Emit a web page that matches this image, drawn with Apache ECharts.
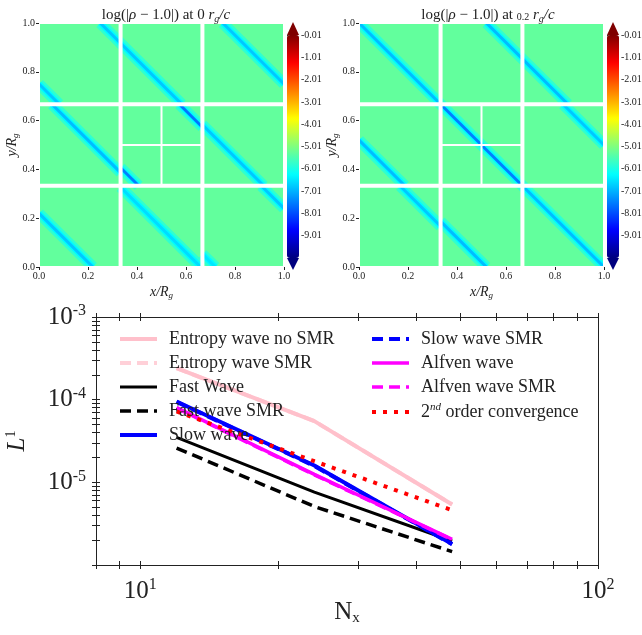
<!DOCTYPE html>
<html>
<head>
<meta charset="utf-8">
<title>Entropy wave snapshots and convergence</title>
<script src="https://cdn.jsdelivr.net/npm/echarts@6.0.0/dist/echarts.min.js"></script>
<style>
  body { margin: 0; padding: 0; background: #fff; }
  #chart { width: 642px; height: 635px; }
</style>
</head>
<body>
<div id="chart"></div>
<script>
// ---- convergence test (bottom panel) ----
const nx = [12, 24, 48];
const entropyNoSmr = [2.4e-4, 5.5e-5, 5.4e-6];
const entropySmr = [2.4e-4, 5.5e-5, 5.4e-6];
const fastWave = [3.5e-5, 7.6e-6, 1.95e-6];
const fastWaveSmr = [2.6e-5, 5.1e-6, 1.45e-6];
const slowWave = [9.5e-5, 1.6e-5, 1.8e-6];
const slowWaveSmr = [9.4e-5, 1.58e-5, 1.78e-6];
const alfvenWave = [8.0e-5, 1.25e-5, 2.05e-6];
const alfvenWaveSmr = [7.9e-5, 1.23e-5, 2.03e-6];
const secondOrder = [7.2e-5, 1.8e-5, 4.6e-6];

const xLabelValues = [10, 100];
const yLabelValues = [1e-5, 1e-4, 1e-3];

// ---- density snapshots (top panels) ----
const colorRange = [-10.01, -0.01];
const colorTicks = [-9.01, -8.01, -7.01, -6.01, -5.01, -4.01, -3.01, -2.01, -1.01, -0.01];
const backgroundLevel = -5.3;
const haloLevels = [-5.8, -6.3];

// wave fronts seen in each mesh block: x1, y1, x2, y2, level at the front
const stripesT0 = [
  [0.25, 1.0, 0.333, 0.917, -6.8],
  [0.0, 0.75, 0.083, 0.667, -6.8],
  [0.333, 0.917, 0.583, 0.667, -6.8],
  [0.75, 1.0, 1.0, 0.75, -6.8],
  [0.053, 0.667, 0.333, 0.387, -6.9],
  [0.333, 0.407, 0.407, 0.333, -7.5],
  [0.573, 0.667, 0.667, 0.573, -7.6],
  [0.667, 0.583, 0.917, 0.333, -6.8],
  [0.0, 0.22, 0.22, 0.0, -6.8],
  [0.333, 0.327, 0.66, 0.0, -6.6],
  [0.907, 0.333, 1.0, 0.24, -6.8],
  [0.667, 0.053, 0.72, 0.0, -6.5]
];
const stripesT02 = [
  [0.0, 1.0, 0.333, 0.667, -6.9],
  [0.52, 1.0, 0.667, 0.853, -6.9],
  [0.667, 0.853, 0.853, 0.667, -6.9],
  [0.0, 0.52, 0.187, 0.333, -6.9],
  [0.333, 0.667, 0.667, 0.333, -7.5],
  [0.833, 0.667, 1.0, 0.5, -6.8],
  [0.167, 0.333, 0.333, 0.167, -6.8],
  [0.333, 0.187, 0.52, 0.0, -6.9],
  [0.667, 0.333, 1.0, 0.0, -6.9]
];
// mesh block borders: x1, y1, x2, y2, kind (0 coarse, 1 refined / edge)
const meshLines = [
  [0.333, 0, 0.333, 1, 0], [0.667, 0, 0.667, 1, 0],
  [0, 0.333, 1, 0.333, 0], [0, 0.667, 1, 0.667, 0],
  [0.5, 0.333, 0.5, 0.667, 1], [0.333, 0.5, 0.667, 0.5, 1],
  [0, 0, 0, 1, 1], [1, 0, 1, 1, 1], [0, 0, 1, 0, 1], [0, 1, 1, 1, 1]
];

const serif = "'Liberation Serif', 'DejaVu Serif', serif";
const ink = '#222';
const jet = ['#00007f', '#0000ff', '#007fff', '#00ffff', '#7fff7f', '#ffff00', '#ff7f00', '#ff0000', '#7f0000'];
const stripeWidths = [11, 6, 3];
const meshWidths = [4, 2];

function fieldData(stripes) {
  const items = [[0, 0, 1, 1, backgroundLevel, -1]];
  for (let layer = 0; layer < stripeWidths.length; layer++) {
    stripes.forEach(s => {
      const level = layer < haloLevels.length ? haloLevels[layer] : s[4];
      items.push([s[0], s[1], s[2], s[3], level, layer]);
    });
  }
  return items;
}

function renderField(params, api) {
  const layer = api.value(5);
  const a = api.coord([api.value(0), api.value(1)]);
  const b = api.coord([api.value(2), api.value(3)]);
  const color = api.visual('color');
  if (layer < 0) {
    return { type: 'rect', shape: { x: a[0], y: b[1], width: b[0] - a[0], height: a[1] - b[1] }, style: { fill: color } };
  }
  return {
    type: 'line',
    shape: { x1: a[0], y1: a[1], x2: b[0], y2: b[1] },
    style: { stroke: color, lineWidth: stripeWidths[layer], lineCap: 'butt' }
  };
}

function renderMesh(params, api) {
  const a = api.coord([api.value(0), api.value(1)]);
  const b = api.coord([api.value(2), api.value(3)]);
  return {
    type: 'line',
    shape: { x1: a[0], y1: a[1], x2: b[0], y2: b[1] },
    style: { stroke: '#fff', lineWidth: meshWidths[api.value(4)] }
  };
}

function renderExtend(params, api) {
  const p = api.coord([0.5, api.value(1)]);
  const half = params.coordSys.width / 2;
  const up = api.value(2) > 0;
  const tip = up ? p[1] - 13 : p[1] + 12;
  return {
    type: 'polygon',
    shape: { points: [[p[0] - half, p[1]], [p[0] + half, p[1]], [p[0], tip]] },
    style: { fill: up ? jet[jet.length - 1] : jet[0] }
  };
}

const titleRich = {
  n: { fontFamily: serif, fontSize: 15, fontWeight: 'normal', color: ink },
  i: { fontFamily: serif, fontSize: 15, fontWeight: 'normal', fontStyle: 'italic', color: ink },
  sm: { fontFamily: serif, fontSize: 10, fontWeight: 'normal', color: ink, padding: [3, 0, 0, 0] },
  sub: { fontFamily: serif, fontSize: 10, fontWeight: 'normal', fontStyle: 'italic', color: ink, padding: [7, 0, 0, 0] }
};
const nameRich = {
  i: { fontFamily: serif, fontSize: 14, fontStyle: 'italic', color: ink },
  sub: { fontFamily: serif, fontSize: 9, fontStyle: 'italic', color: ink, padding: [7, 0, 0, 0] }
};

function panelAxes(k) {
  const x = {
    type: 'value', gridIndex: k, min: 0, max: 1, interval: 0.2,
    axisLine: { show: false },
    axisTick: { show: true, length: 3, lineStyle: { color: ink } },
    axisLabel: { fontFamily: serif, fontSize: 10, color: ink, margin: 4, formatter: v => v.toFixed(1) },
    splitLine: { show: false },
    name: '{i|x/R}{sub|g}', nameLocation: 'middle', nameGap: 17, nameMoveOverlap: false,
    nameTextStyle: { rich: nameRich }
  };
  const y = {
    type: 'value', gridIndex: k, min: 0, max: 1, interval: 0.2,
    axisLine: { show: false },
    axisTick: { show: true, length: 3, lineStyle: { color: ink } },
    axisLabel: { fontFamily: serif, fontSize: 10, color: ink, margin: 4, formatter: v => v.toFixed(1) },
    splitLine: { show: false },
    name: '{i|y/R}{sub|g}', nameLocation: 'middle', nameGap: 19, nameMoveOverlap: false,
    nameTextStyle: { rich: nameRich }
  };
  return [x, y];
}

function colorbarAxes(k) {
  const x = { type: 'value', gridIndex: k, min: 0, max: 1, show: false };
  const y = {
    type: 'value', gridIndex: k, min: colorRange[0], max: colorRange[1], position: 'right',
    axisLine: { show: false },
    axisTick: { show: true, length: 2, customValues: colorTicks, lineStyle: { color: ink } },
    axisLabel: { fontFamily: serif, fontSize: 10, color: ink, margin: 2, customValues: colorTicks, formatter: v => v.toFixed(2) },
    splitLine: { show: false }
  };
  return [x, y];
}

const xTicks = [8, 9, 10, 20, 30, 40, 50, 60, 70, 80, 90, 100];
const yTicks = [];
[-6, -5, -4].forEach(e => { for (let m = 1; m <= 9; m++) yTicks.push(m * Math.pow(10, e)); });
yTicks.push(1e-3);

const powRich = {
  b: { fontFamily: serif, fontSize: 25, color: ink },
  s: { fontFamily: serif, fontSize: 16, color: ink, padding: [0, 0, 12, 0] }
};
const powLabel = v => '{b|10}{s|' + Math.round(Math.log10(v)) + '}';

function logAxis(dir, position, inside, labelled, extra) {
  const isX = dir === 'x';
  return Object.assign({
    type: 'log', logBase: 10, gridIndex: 4, position,
    min: isX ? 8 : 1e-6, max: isX ? 100 : 1e-3,
    axisLine: { show: true, onZero: false, lineStyle: { color: ink, width: 1 } },
    axisTick: { show: inside !== null, inside: !!inside, length: 4, customValues: isX ? xTicks : yTicks, lineStyle: { color: ink } },
    axisLabel: labelled
      ? { customValues: isX ? xLabelValues : yLabelValues, formatter: powLabel, rich: powRich, margin: isX ? 12 : 10 }
      : { show: false },
    splitLine: { show: false },
    minorTick: { show: false }
  }, extra || {});
}

const xAxes = [];
const yAxes = [];
[0, 1].forEach(k => { const a = panelAxes(k); xAxes.push(a[0]); yAxes.push(a[1]); });
[2, 3].forEach(k => { const a = colorbarAxes(k); xAxes.push(a[0]); yAxes.push(a[1]); });
xAxes.push(logAxis('x', 'bottom', false, true, {
  name: '{n|N}{x|x}', nameLocation: 'middle', nameGap: 34, nameMoveOverlap: false,
  nameTextStyle: { rich: {
    n: { fontFamily: serif, fontSize: 25, color: ink },
    x: { fontFamily: serif, fontSize: 15, color: ink, padding: [12, 0, 0, 0] }
  } }
}));
xAxes.push(logAxis('x', 'bottom', true, false));
xAxes.push(logAxis('x', 'top', false, false));
xAxes.push(logAxis('x', 'top', true, false));
yAxes.push(logAxis('y', 'left', false, true, {
  name: '{l|L}{s|1}', nameLocation: 'middle', nameGap: 66, nameMoveOverlap: false,
  nameTextStyle: { rich: {
    l: { fontFamily: serif, fontSize: 25, fontStyle: 'italic', color: ink },
    s: { fontFamily: serif, fontSize: 14, color: ink, padding: [0, 0, 12, 0] }
  } }
}));
yAxes.push(logAxis('y', 'left', true, false));
yAxes.push(logAxis('y', 'right', null, false));
yAxes.push(logAxis('y', 'right', null, false));

const secondName = '2nd order convergence';
const curves = [
  { name: 'Entropy wave no SMR', values: entropyNoSmr, color: '#ffc0cb', width: 4, dash: 'solid' },
  { name: 'Entropy wave SMR', values: entropySmr, color: 'rgba(255,192,203,0.75)', width: 4, dash: [11, 6] },
  { name: 'Fast Wave', values: fastWave, color: '#000', width: 3, dash: 'solid' },
  { name: 'Fast wave SMR', values: fastWaveSmr, color: '#000', width: 3.5, dash: [11, 6] },
  { name: 'Slow wave', values: slowWave, color: '#0000ff', width: 4, dash: 'solid' },
  { name: 'Slow wave SMR', values: slowWaveSmr, color: '#0000ff', width: 4, dash: [11, 6] },
  { name: 'Alfven wave', values: alfvenWave, color: '#ff00ff', width: 3.5, dash: 'solid' },
  { name: 'Alfven wave SMR', values: alfvenWaveSmr, color: '#ff00ff', width: 3.5, dash: [11, 6] },
  { name: secondName, values: secondOrder, color: '#ff0000', width: 4, dash: [4, 7] }
];

const series = [
  { type: 'custom', xAxisIndex: 0, yAxisIndex: 0, clip: true, renderItem: renderField, data: fieldData(stripesT0) },
  { type: 'custom', xAxisIndex: 1, yAxisIndex: 1, clip: true, renderItem: renderField, data: fieldData(stripesT02) },
  { type: 'custom', xAxisIndex: 0, yAxisIndex: 0, clip: true, renderItem: renderMesh, data: meshLines, z: 3 },
  { type: 'custom', xAxisIndex: 1, yAxisIndex: 1, clip: true, renderItem: renderMesh, data: meshLines, z: 3 },
  { type: 'custom', xAxisIndex: 2, yAxisIndex: 2, renderItem: renderExtend, data: [[0.5, colorRange[1], 1], [0.5, colorRange[0], -1]] },
  { type: 'custom', xAxisIndex: 3, yAxisIndex: 3, renderItem: renderExtend, data: [[0.5, colorRange[1], 1], [0.5, colorRange[0], -1]] }
];
curves.forEach(c => {
  series.push({
    name: c.name, type: 'line', xAxisIndex: 4, yAxisIndex: 4,
    data: nx.map((n, i) => [n, c.values[i]]),
    symbol: 'none', showSymbol: false, silent: true,
    lineStyle: { color: c.color, width: c.width, type: c.dash, cap: 'butt' },
    itemStyle: { color: c.color }
  });
});

const legendText = {
  fontFamily: serif, fontSize: 18, color: ink, lineHeight: 18, padding: [0, 0, 0, 7],
  rich: {
    n: { fontFamily: serif, fontSize: 18, color: ink },
    sup: { fontFamily: serif, fontSize: 11, fontStyle: 'italic', color: ink, padding: [0, 0, 9, 0] }
  }
};
function legendBox(names, left) {
  return {
    data: names, left, top: 330, orient: 'vertical', padding: 0,
    itemWidth: 37, itemHeight: 14, itemGap: 6, selectedMode: false,
    lineStyle: { width: 'inherit' },
    itemStyle: { opacity: 0 },
    textStyle: legendText,
    formatter: name => name === secondName ? '{n|2}{sup|nd}{n| order convergence}' : name
  };
}

const option = {
  animation: false,
  backgroundColor: '#fff',
  title: [
    { text: '{n|log(|}{i|ρ}{n| − 1.0|) at 0 }{i|r}{sub|g}{i|/c}', left: 161, top: 2, textAlign: 'center', textStyle: { fontWeight: 'normal', rich: titleRich } },
    { text: '{n|log(|}{i|ρ}{n| − 1.0|) at }{sm|0.2}{n| }{i|r}{sub|g}{i|/c}', left: 483, top: 2, textAlign: 'center', textStyle: { fontWeight: 'normal', rich: titleRich } }
  ],
  grid: [
    { left: 39, top: 23, width: 245, height: 244, outerBoundsMode: 'none' },
    { left: 359, top: 23, width: 245, height: 244, outerBoundsMode: 'none' },
    { left: 287, top: 35, width: 12, height: 223, outerBoundsMode: 'none' },
    { left: 607, top: 35, width: 12, height: 223, outerBoundsMode: 'none' },
    { left: 96, top: 317, width: 502, height: 248, outerBoundsMode: 'none' }
  ],
  visualMap: [287, 607].map((left, k) => ({
    type: 'continuous', min: colorRange[0], max: colorRange[1], dimension: 4, seriesIndex: k,
    calculable: false, hoverLink: false, orient: 'vertical', left, top: 35,
    itemWidth: 12, itemHeight: 223, padding: 0, inRange: { color: jet }
  })),
  legend: [
    legendBox(curves.slice(0, 5).map(c => c.name), 118),
    legendBox(curves.slice(5).map(c => c.name), 370)
  ],
  xAxis: xAxes,
  yAxis: yAxes,
  series
};

const chart = echarts.init(document.getElementById('chart'));
chart.setOption(option);
</script>
</body>
</html>
